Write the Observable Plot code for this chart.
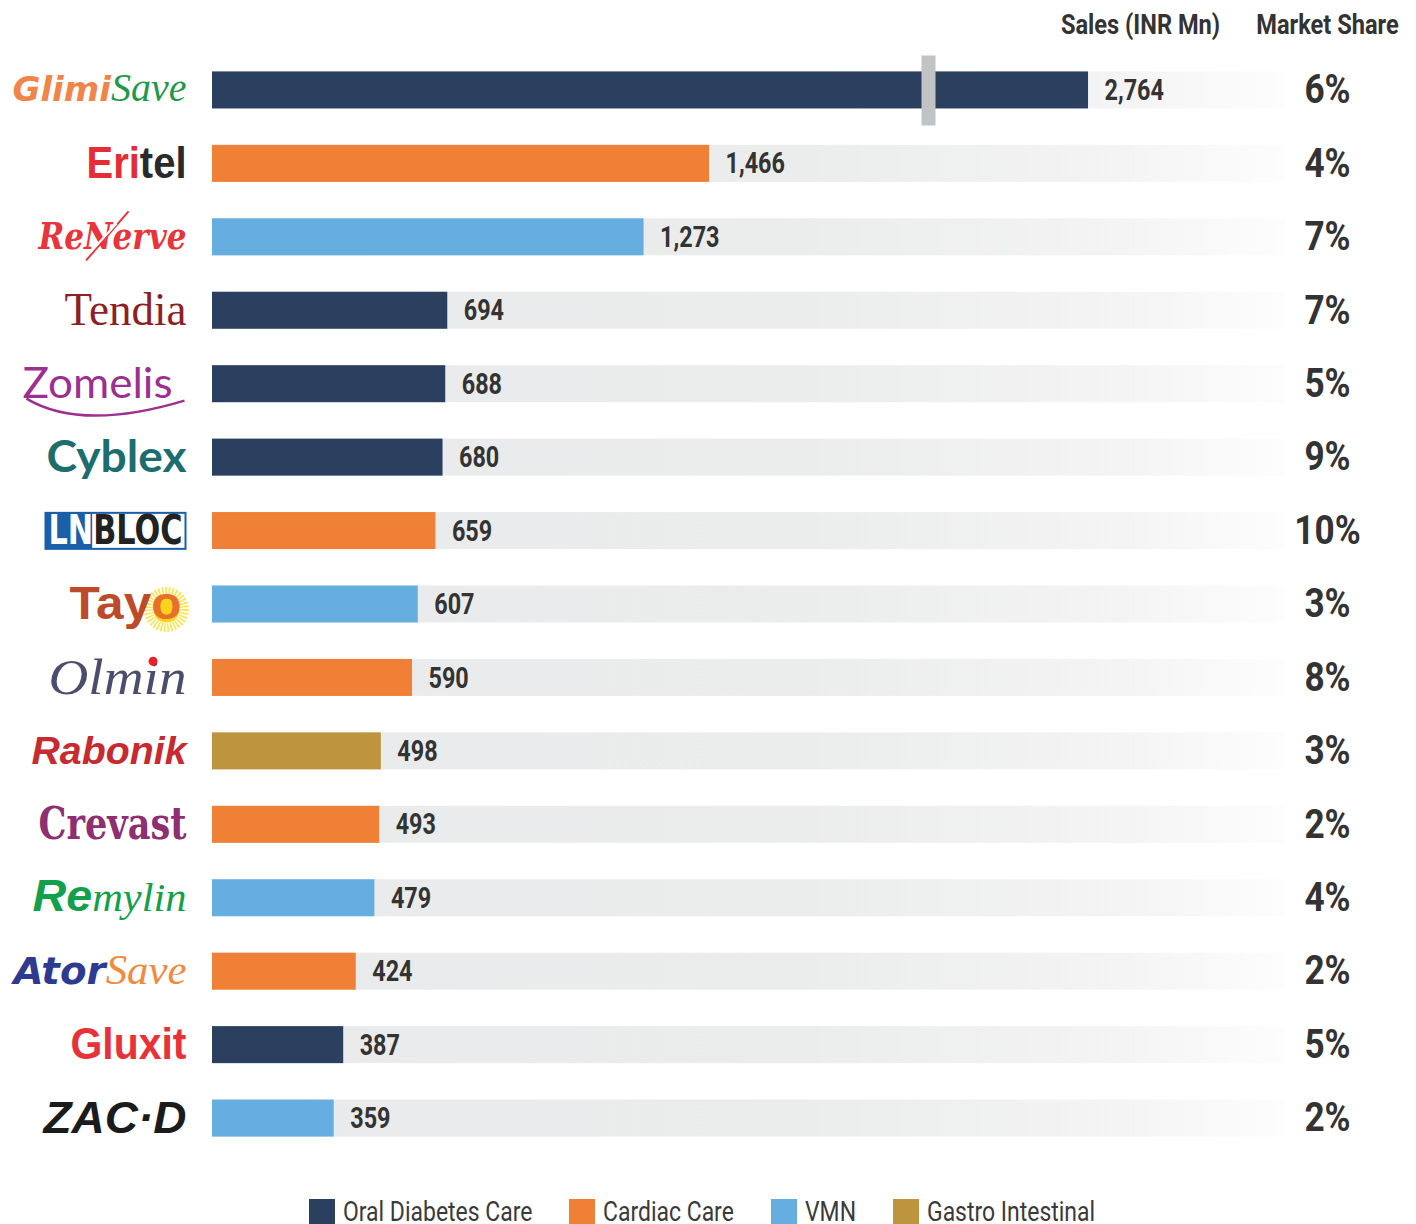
<!DOCTYPE html>
<html><head><meta charset="utf-8">
<script src="https://cdn.jsdelivr.net/npm/d3@7"></script>
<script src="https://cdn.jsdelivr.net/npm/@observablehq/plot@0.6"></script>
<style>
body{margin:0;background:#fff;}
#legend{display:flex;justify-content:center;gap:37px;margin-top:19px;padding-right:12px;
  font-family:Roboto,sans-serif;font-size:27px;color:#3a3a3a;}
.item{display:flex;align-items:center;gap:8px;line-height:26px;white-space:nowrap}
.sw{width:26px;height:26px;display:inline-block;flex:none}
.lab{display:inline-block;transform:scaleX(0.85);transform-origin:left center;white-space:nowrap}
</style></head><body>
<div id="chart"></div><div id="legend"></div>
<script>
// ---- data ----
const brands = ["GlimiSave","Eritel","ReNerve","Tendia","Zomelis","Cyblex","LNBLOC","Tayo","Olmin","Rabonik","Crevast","Remylin","AtorSave","Gluxit","ZAC·D"];
const sales = [2764,1466,1273,694,688,680,659,607,590,498,493,479,424,387,359];
const marketShare = [6,4,7,7,5,9,10,3,8,3,2,4,2,5,2];
const segments = ["Oral Diabetes Care","Cardiac Care","VMN","Oral Diabetes Care","Oral Diabetes Care","Oral Diabetes Care","Cardiac Care","VMN","Cardiac Care","Gastro Intestinal","Cardiac Care","VMN","Cardiac Care","Oral Diabetes Care","VMN"];
const segmentNames = ["Oral Diabetes Care","Cardiac Care","VMN","Gastro Intestinal"];
const segmentColors = ["#2b3f5f","#f08035","#67aee0","#bd953f"];
const headers = ["Sales (INR Mn)","Market Share"];

// axis break (scale parameters)
const breakStart = 2112, breakEnd = 2292, xMax = 3345;

const data = brands.map((b,i)=>({brand:b, sales:sales[i], share:marketShare[i], segment:segments[i]}));

const NARROW = "Roboto, sans-serif";
const SANS = "'Liberation Sans',Arial,sans-serif";
const SERIF = "'Liberation Serif','Times New Roman',serif";
const DSANS = "'DejaVu Sans',sans-serif";
const DSERIF = "'DejaVu Serif',serif";

const W = 1416, ML = 212, MR = 131;
const plotW = W - ML - MR;
const k = plotW / (xMax - (breakEnd - breakStart));
const xb = ML + breakStart * k;

const narrowText = (d, o, squeeze) => Plot.text(d, {...o, fontWeight: "bold", fill: "#333", fontFamily: NARROW, ariaDescription: "narrow" + squeeze});

const chart = Plot.plot({
  width: W, height: 1180,
  marginLeft: ML, marginRight: MR, marginTop: 35, marginBottom: 7,
  x: {type: "linear", domain: [0, breakStart, breakEnd, xMax], range: [ML, xb, xb, W - MR], axis: null},
  y: {domain: brands, padding: 0.496, round: false, axis: null},
  color: {domain: segmentNames, range: segmentColors},
  style: {background: "#fff"},
  marks: [
    Plot.barX(data, {y: "brand", x1: 0, x2: xMax, fill: "url(#bgGrad)"}),
    Plot.barX(data, {y: "brand", x: "sales", fill: "segment"}),
    Plot.tickX(data.filter(d => d.sales > breakEnd), {y: "brand", x: breakStart, stroke: "#c2c3c5", strokeWidth: 14, insetTop: -16, insetBottom: -17}),
    narrowText(data, {y: "brand", x: "sales", text: d => d3.format(",")(d.sales), dx: 16, textAnchor: "start", fontSize: 30}, 0.78),
    narrowText(data, {y: "brand", frameAnchor: "right", text: d => d.share + "%", dx: 42, textAnchor: "middle", fontSize: 40}, 0.88),
    narrowText([headers[0]], {frameAnchor: "top-right", dx: -145, dy: -21, lineAnchor: "top", textAnchor: "middle", fontSize: 27}, 0.875),
    narrowText([headers[1]], {frameAnchor: "top-right", dx: 42, dy: -21, lineAnchor: "top", textAnchor: "middle", fontSize: 27}, 0.875),
    Plot.text(data, {y: "brand", frameAnchor: "left", text: "brand", dx: -26, textAnchor: "end", fill: "#333", ariaDescription: "logo"})
  ]
});
document.getElementById("chart").append(chart);

// gradient for background tracks
d3.select(chart).insert("defs", ":first-child").html(
  `<linearGradient id="bgGrad" x1="0" x2="1" y1="0" y2="0">
     <stop offset="0" stop-color="#e9eaeb"/>
     <stop offset="0.55" stop-color="#ebecec"/>
     <stop offset="0.85" stop-color="#f4f4f5"/>
     <stop offset="1" stop-color="#fdfdfd"/>
   </linearGradient>`);

// horizontal squeeze to mimic a condensed face
function squeezeText(el, s) {
  const tr = el.getAttribute("transform");
  if (tr) el.setAttribute("transform", tr + ` scale(${s},1)`);
  else {
    const x = +el.getAttribute("x") || 0, y = +el.getAttribute("y") || 0;
    el.removeAttribute("x"); el.removeAttribute("y");
    el.setAttribute("transform", `translate(${x},${y}) scale(${s},1)`);
  }
}
d3.select(chart).selectAll("g").each(function() {
  const desc = this.getAttribute("aria-description") || "";
  if (desc.startsWith("narrow")) {
    const s = +desc.slice(6);
    d3.select(this).selectAll("text").each(function() { squeezeText(this, s); });
  }
});

// ---- logo styling (typography only) ----
const logoStyles = {
  "GlimiSave": {size: 34, width: 174, parts: [{t:"Glimi", fill:"#f0854a", family:DSANS, weight:"bold", style:"italic"}, {t:"Save", fill:"#1f9a4b", family:SERIF, style:"italic", size:40}]},
  "Eritel": {size: 44, width: 100, parts: [{t:"Eri", fill:"#e62c35", family:SANS, weight:"bold"}, {t:"tel", fill:"#2a2a2a", family:SANS, weight:"bold"}]},
  "ReNerve": {size: 38, width: 148, parts: [{t:"ReNerve", fill:"#e8343b", family:DSERIF, weight:"bold", style:"italic"}]},
  "Tendia": {size: 46, width: 122, parts: [{t:"Tendia", fill:"#8e1f26", family:SERIF}]},
  "Zomelis": {size: 42, width: 150, dx: -14, parts: [{t:"Zomelis", fill:"#9c2f8f", family:"Lato, sans-serif"}]},
  "Cyblex": {size: 44, width: 140, parts: [{t:"Cyblex", fill:"#1b6d6e", family:"Lato, sans-serif", weight:"bold"}]},
  "LNBLOC": {size: 40, width: 134, dx: -4, parts: [{t:"LN", fill:"#ffffff", family:DSANS, weight:"bold"}, {t:"BLOC", fill:"#222", family:DSANS, weight:"bold"}]},
  "Tayo": {size: 46, width: 112, dx: -5, parts: [{t:"Tay", fill:"#bb4b2a", family:SANS, weight:"bold"}, {t:"o", fill:"#e66f2a", family:SANS, weight:"bold"}]},
  "Olmin": {size: 50, width: 138, parts: [{t:"Olmin", fill:"#4c4c6c", family:SERIF, style:"italic"}]},
  "Rabonik": {size: 38, width: 155, parts: [{t:"Rabonik", fill:"#c72a31", family:SANS, weight:"bold", style:"italic"}]},
  "Crevast": {size: 44, width: 148, parts: [{t:"Crevast", fill:"#8d2f70", family:DSERIF, weight:"bold"}]},
  "Remylin": {size: 40, width: 154, parts: [{t:"Re", fill:"#13a04c", family:SANS, weight:"bold", style:"italic", size:44}, {t:"mylin", fill:"#13a04c", family:SERIF, style:"italic"}]},
  "AtorSave": {size: 38, width: 173, parts: [{t:"Ator", fill:"#2d3a8f", family:DSANS, weight:"bold", style:"italic"}, {t:"Save", fill:"#f08a3c", family:SERIF, style:"italic", size:42}]},
  "Gluxit": {size: 44, width: 116, parts: [{t:"Gluxit", fill:"#e8323a", family:SANS, weight:"bold"}]},
  "ZAC·D": {size: 44, width: 143, parts: [{t:"ZAC·D", fill:"#1b1b1b", family:SANS, weight:"bold", style:"italic"}]}
};

const logoTexts = [];
d3.select(chart).selectAll("text").each(function() {
  if (logoStyles[this.textContent]) logoTexts.push(this);
});
logoTexts.forEach(function(node) {
  const name = node.textContent;
  const st = logoStyles[name];
  const t = d3.select(node);
  t.text(null).attr("font-size", st.size).attr("fill", null);
  if (st.dx) t.attr("dx", st.dx);
  st.parts.forEach(p => {
    const ts = t.append("tspan").text(p.t).attr("fill", p.fill).attr("font-family", p.family);
    if (p.weight) ts.attr("font-weight", p.weight);
    if (p.style) ts.attr("font-style", p.style);
    if (p.size) ts.attr("font-size", p.size);
  });
  t.attr("textLength", st.width).attr("lengthAdjust", "spacingAndGlyphs");

  const g = node.parentNode;
  const tr = node.getAttribute("transform");
  const bb = node.getBBox();
  const NS = "http://www.w3.org/2000/svg";
  const add = (tag, attrs, before) => {
    const el = document.createElementNS(NS, tag);
    for (const a in attrs) el.setAttribute(a, attrs[a]);
    if (tr) el.setAttribute("transform", tr);
    if (before) g.insertBefore(el, node); else g.appendChild(el);
    return el;
  };
  try {
    if (name === "LNBLOC") {
      const split = node.getStartPositionOfChar(2).x;
      const cy = bb.y + bb.height / 2 + 1;
      add("rect", {x: bb.x - 3, y: cy - 18, width: bb.width + 6, height: 36, fill: "#fff", stroke: "#1a5fa8", "stroke-width": 2}, true);
      add("rect", {x: bb.x - 3, y: cy - 18, width: split - bb.x + 2, height: 36, fill: "#1a5fa8"}, true);
    }
    if (name === "Tayo") {
      const e = node.getExtentOfChar(3);
      const cx = e.x + e.width / 2, cy = e.y + e.height * 0.62;
      add("circle", {cx, cy, r: 18, fill: "none", stroke: "#ffe44a", "stroke-width": 9, "stroke-dasharray": "1.6 1.6"}, true);
      add("circle", {cx, cy, r: 13, fill: "#fcd21c"}, true);
    }
    if (name === "Olmin") {
      const e = node.getExtentOfChar(3);
      add("circle", {cx: e.x + e.width * 0.62, cy: e.y + e.height * 0.22, r: 4.5, fill: "#e8222d"}, false);
    }
    if (name === "ReNerve") {
      const e = node.getExtentOfChar(2);
      add("line", {x1: e.x + 2, y1: e.y + e.height + 2, x2: e.x + e.width + 16, y2: e.y - 2, stroke: "#e8343b", "stroke-width": 2}, false);
      add("line", {x1: e.x + 6, y1: e.y + e.height - 6, x2: e.x + e.width + 4, y2: e.y + 10, stroke: "#fff", "stroke-width": 2}, false);
    }
    if (name === "Zomelis") {
      const x0 = bb.x + 4, x1 = bb.x + bb.width + 12, yb = bb.y + bb.height - 2;
      add("path", {d: `M${x0},${yb - 6} C${x0 + 40},${yb + 18} ${x1 - 60},${yb + 14} ${x1},${yb - 4}`, fill: "none", stroke: "#9c2f8f", "stroke-width": 2.5}, false);
    }
  } catch (e) { console.error(e); }
});

// ---- legend ----
const legend = d3.select("#legend");
segmentNames.forEach((s, i) => {
  const it = legend.append("div").attr("class", "item");
  it.append("span").attr("class", "sw").style("background", segmentColors[i]);
  it.append("span").attr("class", "lab").text(s);
});
legend.selectAll(".lab").each(function() {
  this.style.width = (this.offsetWidth * 0.85) + "px";
});
</script>
</body></html>
